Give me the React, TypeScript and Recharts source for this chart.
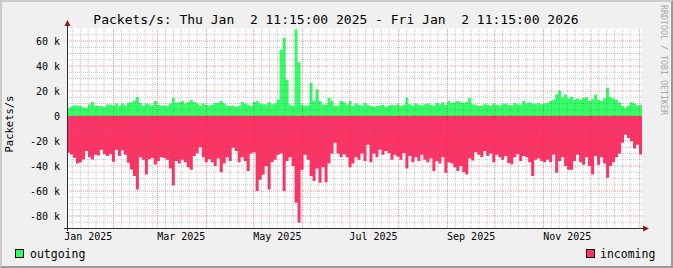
import React from 'react';
import { ComposedChart, Area, XAxis, YAxis, ReferenceLine, CartesianGrid } from 'recharts';

const TITLE = 'Packets/s: Thu Jan  2 11:15:00 2025 - Fri Jan  2 11:15:00 2026';
const Y_TITLE = 'Packets/s';
const WATERMARK = 'RRDTOOL / TOBI OETIKER';
const START = Date.UTC(2025, 0, 2, 11, 15);
const END = Date.UTC(2026, 0, 2, 11, 15);
const DAY = 86400000;
const SPAN = (END - START) / DAY;

// values in thousands of packets/s, one per sample (~1.9 days)
const outgoing = [
  6.7, 7.5, 8.5, 8.5, 8, 7, 6.7, 9.3, 11.2, 8.5, 8, 8, 7.2, 9.3, 9, 8.5, 10, 8, 10, 8.5, 10.7, 11, 12.5, 15.2, 10.5, 8.5, 10, 9.3, 8.5, 12, 9, 8.5,
  8.7, 8, 10, 14.7, 10.7, 11, 12, 10, 11.2, 12.8, 11.2, 10, 8.5, 10, 9, 8.5, 9, 10.2, 10.7, 12, 10, 8.5, 8, 8.5, 7.5, 8, 11.2, 10, 9.3, 8, 11.2, 12,
  10, 9.5, 9.3, 11, 9.3, 10, 13.3, 53, 62.7, 29, 9.3, 8, 69.5, 43, 9, 8.5, 8.5, 26.7, 12, 21.3, 12, 9.3, 9, 14.7, 12, 8, 8.5, 12, 11.2, 9.3, 12, 8,
  10, 9, 8.5, 10.5, 9, 8, 7.5, 8, 8.5, 9, 7.5, 8.5, 9, 8.5, 9.5, 8, 9, 14.7, 9.5, 8.5, 10, 9, 8.5, 9.5, 10, 9, 8.5, 10.5, 9.5, 11, 9, 12,
  10.5, 11, 12, 11, 10.5, 11.5, 14.5, 9.5, 9, 8, 8.5, 9.5, 9, 8.5, 10, 9, 8.5, 9.5, 10, 9, 8.5, 10.5, 9.5, 9, 12, 10, 11, 10, 9.5, 10.5, 9.5, 10,
  10.5, 12, 13, 17.3, 20.5, 15, 17.3, 14, 15.5, 13, 14, 13, 14.5, 15, 12, 13.5, 17.3, 13, 12, 14.5, 22.7, 15, 14, 13, 11, 8, 6.7, 8.5, 11, 10, 8.5, 9,
];

const incoming = [
  -29.3, -30.7, -33.3, -37.9, -37, -34.7, -28, -33, -34.7, -31, -31.5, -27, -30.5, -32, -30.5, -36.5, -27, -32, -27.5, -31, -37.3, -42.7, -48, -58.7, -33, -35, -46.7, -34.5, -33.5, -38.7, -36, -33,
  -33.5, -35, -42, -55.5, -36, -38, -35, -37, -41, -43, -32, -29.5, -25, -33, -37, -34.5, -37, -40, -34, -45, -38, -33, -36, -25.3, -28, -37, -33, -36, -44, -30, -29, -60,
  -51, -47, -40, -58.7, -37, -35, -31, -30, -60, -36, -33, -40, -69.3, -85.3, -43, -31, -35, -48, -52, -42, -53.3, -41, -53, -38, -30, -21.3, -30, -33, -30.5, -33, -41, -38,
  -33, -35, -30, -36, -23, -37, -30, -33, -27, -31, -28, -29.5, -35, -31, -32.5, -35, -29.5, -42, -32, -37, -33, -36, -31, -35, -37, -34, -44, -36, -38, -33, -45.3, -37,
  -38, -41, -44, -40, -45, -46.7, -34, -35.5, -29, -31, -33, -28, -32, -30, -37, -31, -33, -35, -32, -37.5, -38.5, -33, -30.5, -36, -32, -33, -37, -48, -35, -34, -36, -37,
  -35, -37, -31, -45.3, -36, -33, -40, -43, -43, -36, -31, -37, -39, -33, -40, -46.7, -32, -39, -33, -38, -49.3, -40, -37, -33, -30, -21.3, -15, -17.5, -20, -26, -23, -30.7,
];

const yTicks = [-80, -60, -40, -20, 0, 20, 40, 60];
const yMinor = [-85, -75, -70, -65, -55, -50, -45, -35, -30, -25, -15, -10, -5, 5, 10, 15, 25, 30, 35, 45, 50, 55, 65];
const labelMonths = [0, 2, 4, 6, 8, 10];
const labelTexts = ['Jan 2025', 'Mar 2025', 'May 2025', 'Jul 2025', 'Sep 2025', 'Nov 2025'];
const majorMonths = [1, 2, 3, 4, 5, 6, 7, 8, 9, 10, 11, 12];
const minorDays = [6, 11, 16, 21, 26];

const dayOf = (y: number, m: number, d: number) => (Date.UTC(y, m, d) - START) / DAY;

const STEP = SPAN / outgoing.length;
const data = outgoing.map((o, i) => ({ t: i * STEP, outgoing: o, incoming: incoming[i] }));
data.push({ t: SPAN, outgoing: outgoing[outgoing.length - 1], incoming: incoming[incoming.length - 1] });

const labelTicks = labelMonths.map((m) => dayOf(2025, m, 16));
const majorX = majorMonths.map((m) => dayOf(2025, m, 1)).filter((t) => t > 0 && t < SPAN);
const minorX: number[] = [];
for (let m = 0; m < 13; m++) {
  for (const d of minorDays) {
    const t = dayOf(2025, m, d);
    if (t > 0 && t < SPAN) minorX.push(t);
  }
}

const FONT = '"DejaVu Sans Mono", monospace';
const GREEN = '#33FF66';
const RED = '#FF3366';
const MINOR = 'rgba(110,110,110,0.38)';
const MAJOR = 'rgba(225,40,40,0.5)';

export default function App() {
  return (
    <div
      style={{
        position: 'absolute',
        left: 0,
        top: 0,
        width: 673,
        height: 268,
        boxSizing: 'border-box',
        background: '#F0F0F0',
        borderTop: '2px solid #CBCBCB',
        borderLeft: '2px solid #CBCBCB',
        borderRight: '2px solid #999999',
        borderBottom: '2px solid #999999',
        fontFamily: FONT,
        overflow: 'hidden',
      }}
    >
      <div style={{ position: 'absolute', left: -2, top: -2 }}>
        <ComposedChart
          width={673}
          height={268}
          data={data}
          margin={{ top: 28.5, right: 31, bottom: 20, left: 7 }}
        >
          <CartesianGrid horizontal={false} vertical={false} fill="#FFFFFF" />
          <XAxis
            type="number"
            dataKey="t"
            domain={[0, SPAN]}
            ticks={labelTicks}
            interval={0}
            tickFormatter={(v: number) => {
              const idx = labelTicks.findIndex((x) => Math.abs(x - v) < 0.01);
              return idx >= 0 ? labelTexts[idx] : '';
            }}
            axisLine={false}
            tickLine={false}
            tickSize={0}
            tickMargin={5}
            height={20}
            allowDataOverflow
            tick={{ fontSize: 10, fontFamily: FONT, fill: '#000' }}
          />
          <YAxis
            type="number"
            domain={[-89.6, 70]}
            ticks={yTicks}
            interval={0}
            tickFormatter={(v: number) => (v === 0 ? '0' : `${v} k`)}
            axisLine={false}
            tickLine={false}
            tickSize={0}
            tickMargin={7}
            width={60}
            allowDataOverflow
            tick={{ fontSize: 10, fontFamily: FONT, fill: '#000' }}
          />
          <Area
            type="stepAfter"
            dataKey="outgoing"
            stroke="none"
            fill={GREEN}
            fillOpacity={1}
            baseValue={0}
            isAnimationActive={false}
            dot={false}
            activeDot={false}
          />
          <Area
            type="stepAfter"
            dataKey="incoming"
            stroke="none"
            fill={RED}
            fillOpacity={1}
            baseValue={0}
            isAnimationActive={false}
            dot={false}
            activeDot={false}
          />
          {yMinor.map((v) => (
            <ReferenceLine key={`ym${v}`} y={v} stroke={MINOR} strokeDasharray="1 1" />
          ))}
          {minorX.map((v) => (
            <ReferenceLine key={`xm${v}`} x={v} stroke={MINOR} strokeDasharray="1 1" />
          ))}
          {yTicks.map((v) => (
            <ReferenceLine key={`yM${v}`} y={v} stroke={MAJOR} strokeDasharray="1 1" />
          ))}
          {majorX.map((v) => (
            <ReferenceLine key={`xM${v}`} x={v} stroke={MAJOR} strokeDasharray="1 1" />
          ))}
        </ComposedChart>
      </div>
      <svg
        width={673}
        height={268}
        style={{ position: 'absolute', left: -2, top: -2, pointerEvents: 'none' }}
      >
        <line x1={67.5} y1={231} x2={67.5} y2={24} stroke="#303030" strokeWidth={1} />
        <line x1={64} y1={228.5} x2={644} y2={228.5} stroke="#303030" strokeWidth={1} />
        <polygon points="64.5,26 70.5,26 67.5,20" fill="#8B1A1A" />
        <polygon points="643,225.5 643,231.5 649,228.5" fill="#8B1A1A" />
        <text
          x={336}
          y={24}
          textAnchor="middle"
          fontSize={13}
          fontFamily={FONT}
          fill="#000"
          style={{ whiteSpace: 'pre' }}
        >
          {TITLE}
        </text>
        <text
          x={13}
          y={124}
          textAnchor="middle"
          fontSize={10.5}
          fontFamily={FONT}
          fill="#000"
          transform="rotate(-90 13 124)"
        >
          {Y_TITLE}
        </text>
        <text
          x={661}
          y={60}
          textAnchor="middle"
          fontSize={8.3}
          fontFamily={FONT}
          fill="#A8A8A8"
          transform="rotate(90 661 60)"
        >
          {WATERMARK}
        </text>
        <rect x={15.5} y={249.5} width={8} height={8} fill={GREEN} stroke="#000" strokeWidth={1} />
        <text x={30} y={257.5} fontSize={11.5} fontFamily={FONT} fill="#000">outgoing</text>
        <rect x={586.5} y={249.5} width={8} height={8} fill={RED} stroke="#000" strokeWidth={1} />
        <text x={600} y={257.5} fontSize={11.5} fontFamily={FONT} fill="#000">incoming</text>
      </svg>
    </div>
  );
}
